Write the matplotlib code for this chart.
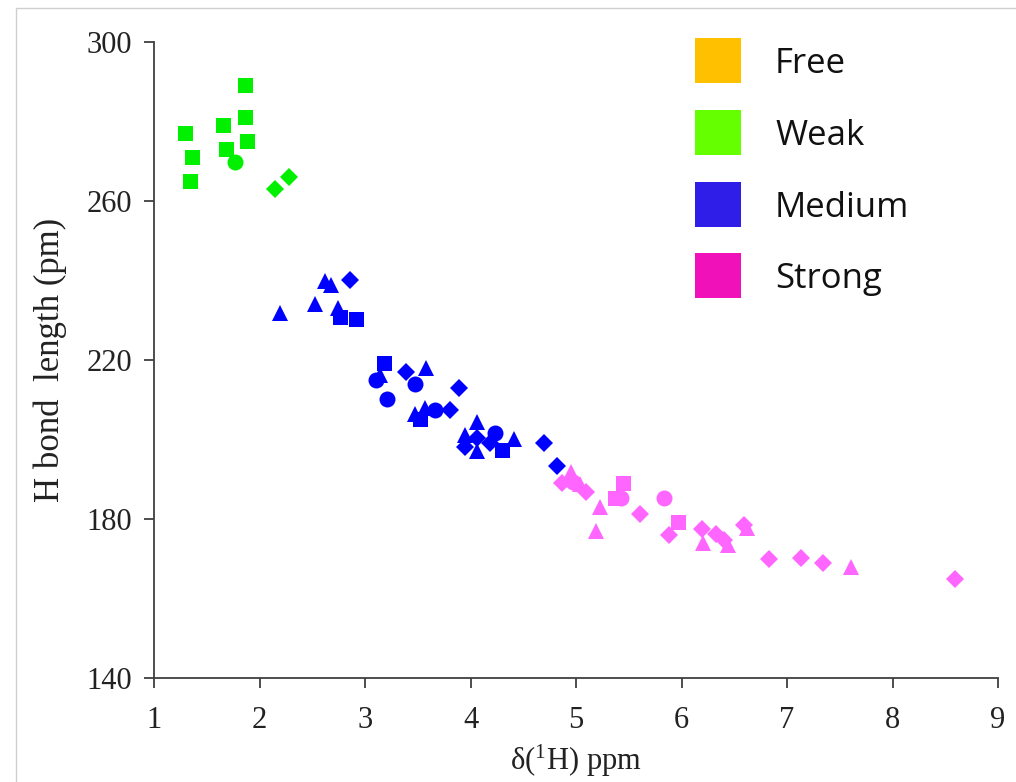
import matplotlib
matplotlib.use("Agg")
import matplotlib.pyplot as plt
from matplotlib.patches import Rectangle

# data: chemical shift (ppm), H bond length (pm), marker shape
weak_x = [1.86, 1.86, 1.88, 1.65, 1.68, 1.29, 1.36, 1.34, 1.77, 2.15, 2.28]
weak_y = [289.2, 281.1, 275.1, 279.1, 273.1, 277.1, 271.1, 265.0, 269.9, 263.0, 266.0]
weak_m = ["s", "s", "s", "s", "s", "s", "s", "s", "o", "D", "D"]

medium_x = [2.19, 2.53, 2.62, 2.68, 2.74, 2.86, 2.76, 2.91, 3.18, 3.14, 3.10,
            3.39, 3.58, 3.47, 3.21, 3.89, 3.47, 3.52, 3.57, 3.66, 3.81, 4.06,
            3.95, 4.06, 3.95, 4.06, 4.23, 4.18, 4.30, 4.41, 4.70, 4.82]
medium_y = [231.9, 234.0, 239.9, 238.9, 233.0, 240.1, 230.9, 230.2, 219.2, 216.2, 215.0,
            217.0, 217.9, 214.0, 210.3, 212.9, 206.4, 205.1, 207.8, 207.4, 207.4, 204.5,
            201.1, 200.3, 198.0, 197.2, 201.6, 199.0, 197.4, 200.0, 199.2, 193.3]
medium_m = ["^", "^", "^", "^", "^", "D", "s", "s", "s", "^", "o",
            "D", "^", "o", "o", "D", "^", "s", "^", "o", "D", "^",
            "^", "D", "D", "^", "o", "D", "s", "^", "D", "D"]

strong_x = [4.95, 4.87, 4.97, 5.04, 5.09, 5.45, 5.37, 5.43, 5.23, 5.19, 5.61,
            5.83, 5.97, 5.88, 6.19, 6.20, 6.33, 6.40, 6.44, 6.59, 6.62, 6.83,
            7.13, 7.34, 7.61, 8.59]
strong_y = [191.9, 189.1, 189.4, 188.9, 186.9, 189.1, 185.2, 185.2, 183.1, 177.1, 181.3,
            185.2, 179.3, 176.0, 177.4, 173.9, 176.2, 174.7, 173.5, 178.5, 177.7, 169.9,
            170.1, 169.0, 167.8, 164.9]
strong_m = ["^", "D", "o", "^", "D", "s", "s", "o", "^", "^", "D",
            "o", "s", "D", "D", "^", "D", "D", "^", "D", "^", "D",
            "D", "D", "^", "D"]

legend_labels = ["Free", "Weak", "Medium", "Strong"]
legend_colors = ["#ffc000", "#66ff00", "#2e1ee8", "#f012b8"]

point_colors = {"weak": "#00f000", "medium": "#0000ff", "strong": "#ff66ff"}
marker_size = {"s": 10.8, "o": 11.5, "^": 11.0, "D": 9.6}

serif = "Liberation Serif"
plt.rcParams["font.family"] = [serif, "DejaVu Serif"]
plt.rcParams["mathtext.fontset"] = "custom"
plt.rcParams["mathtext.rm"] = serif
plt.rcParams["mathtext.it"] = serif + ":italic"

fig = plt.figure(figsize=(10.16, 7.82), dpi=100)
ax = fig.add_axes([0.1516, 0.133, 0.8307, 0.8133])

series = [
    (weak_x, weak_y, weak_m, point_colors["weak"]),
    (medium_x, medium_y, medium_m, point_colors["medium"]),
    (strong_x, strong_y, strong_m, point_colors["strong"]),
]
for xs, ys, ms, col in series:
    for shape in ["s", "o", "^", "D"]:
        px = [x for x, m in zip(xs, ms) if m == shape]
        py = [y for y, m in zip(ys, ms) if m == shape]
        if px:
            ax.plot(px, py, linestyle="none", marker=shape, color=col,
                    markersize=marker_size[shape], markeredgewidth=0)

ax.set_xlim(1, 9)
ax.set_ylim(140, 300)
ax.set_xticks(range(1, 10))
ax.set_yticks(range(140, 301, 40))

for side in ["top", "right"]:
    ax.spines[side].set_visible(False)
for side in ["left", "bottom"]:
    ax.spines[side].set_color("#404040")
    ax.spines[side].set_linewidth(1.3)

ax.tick_params(axis="y", direction="out", length=7, width=1.3, color="#404040",
               pad=9, labelsize=22, labelcolor="#222222")
ax.tick_params(axis="x", direction="out", length=7, width=1.3, color="#404040",
               pad=13, labelsize=22, labelcolor="#222222")

ax.set_xlabel(r"δ($\mathregular{^{1}}$H) ppm", fontsize=22, color="#222222", labelpad=6)
ax.set_ylabel("H bond  length (pm)", fontsize=25, color="#222222", labelpad=14)

# legend built from coloured squares and labels, placed in figure pixels
W, H = 1016, 782
for i, (lab, col) in enumerate(zip(legend_labels, legend_colors)):
    top = 38 + i * 71.8
    fig.add_artist(Rectangle((695 / W, 1 - (top + 45) / H), 46 / W, 45 / H,
                             transform=fig.transFigure, color=col, lw=0))
    fig.text(775 / W, 1 - (top + 26) / H, lab, fontsize=25, fontfamily="Open Sans",
             va="center", ha="left", color="#111111")

# thin grey frame around the picture
fig.add_artist(Rectangle((16 / W, -0.01), 1.02 - 16 / W, 1.01 - 8 / H,
                         transform=fig.transFigure, fill=False, ec="#cfcfcf", lw=1))

fig.savefig("out.png", dpi=100)
